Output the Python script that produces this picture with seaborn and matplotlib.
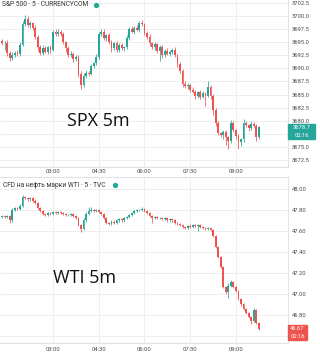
import numpy as np
import pandas as pd
import matplotlib
matplotlib.use("Agg")
import matplotlib.pyplot as plt
import matplotlib.transforms as mtransforms
from matplotlib.patches import Rectangle
import seaborn as sns

# candle times (5 min bars)
times = pd.date_range("2020-11-20 01:20", periods=102, freq="5min")
time_ticks = ["03:00", "04:30", "06:00", "07:30", "09:00"]

# S&P 500 closes, first open, wick sizes
spx_open0 = 3695.3
spx_close = [3694.8, 3694.9, 3693.0, 3692.0, 3692.5, 3693.0, 3692.8, 3694.5, 3698.5, 3699.5,
             3698.2, 3698.6, 3697.8, 3696.0, 3694.0, 3693.0, 3693.8, 3693.2, 3694.0, 3693.6,
             3697.0, 3696.5, 3697.0, 3696.6, 3695.0, 3693.8, 3692.5, 3692.8, 3691.8, 3692.2,
             3689.0, 3686.8, 3688.5, 3689.2, 3689.0, 3690.5, 3691.0, 3692.2, 3696.5, 3697.0,
             3695.8, 3696.3, 3695.0, 3693.8, 3694.8, 3693.6, 3694.5, 3693.8, 3694.0, 3695.8,
             3697.5, 3697.0, 3697.8, 3697.4, 3698.6, 3698.4, 3696.8, 3696.0, 3694.8, 3694.0,
             3694.6, 3693.4, 3694.0, 3692.6, 3693.4, 3692.8, 3693.2, 3693.6, 3692.5, 3690.8,
             3689.5, 3687.0, 3686.6, 3686.8, 3685.9, 3685.5, 3684.8, 3685.4, 3684.6, 3685.2,
             3684.8, 3686.4, 3684.8, 3682.0, 3679.5, 3677.6, 3677.2, 3677.8, 3676.8, 3676.2,
             3679.6, 3678.2, 3677.0, 3675.9, 3676.4, 3679.6, 3679.1, 3678.6, 3679.4, 3679.0,
             3676.8, 3678.7]
spx_uw = [0.4, 0.3, 0.5, 0.3, 0.6, 0.4, 0.5, 0.6, 0.5, 0.7,
          0.5, 0.4, 0.3, 0.4, 0.3, 0.5, 0.6, 0.4, 0.3, 0.5,
          0.4, 0.6, 0.5, 0.3, 0.4, 0.3, 0.5, 0.6, 0.4, 0.3,
          0.3, 0.4, 0.6, 0.5, 0.3, 0.4, 0.3, 0.5, 0.4, 0.6,
          0.5, 0.3, 0.4, 0.5, 0.3, 0.4, 0.3, 0.4, 0.3, 0.5,
          0.4, 0.6, 0.3, 0.5, 0.4, 0.7, 0.3, 0.4, 0.5, 0.3,
          0.4, 0.3, 0.5, 0.4, 0.3, 0.5, 0.4, 0.3, 0.5, 0.3,
          0.4, 0.3, 0.5, 0.4, 0.3, 0.5, 0.4, 0.3, 0.5, 0.4,
          0.3, 1.2, 0.4, 0.3, 0.5, 0.4, 0.3, 0.4, 0.5, 0.3,
          0.6, 0.4, 0.3, 0.5, 0.3, 0.7, 0.4, 0.3, 0.5, 0.4,
          0.3, 0.3]
spx_lw = [0.3, 1.2, 0.6, 0.5, 0.4, 0.3, 0.5, 0.4, 0.3, 0.4,
          0.3, 0.5, 0.4, 0.3, 0.6, 0.4, 0.5, 0.3, 0.4, 0.6,
          0.3, 0.4, 0.3, 0.5, 0.4, 0.6, 0.4, 0.3, 0.5, 0.4,
          0.6, 0.8, 0.4, 0.3, 0.5, 0.3, 0.4, 0.3, 0.5, 0.4,
          0.3, 0.5, 0.4, 0.6, 0.3, 0.5, 0.4, 0.3, 0.5, 0.3,
          0.4, 0.3, 0.5, 0.3, 0.4, 0.3, 0.5, 0.4, 0.6, 0.3,
          0.5, 0.4, 2.0, 0.6, 0.4, 0.3, 0.5, 0.4, 0.3, 0.6,
          0.4, 0.6, 0.3, 0.5, 0.4, 0.3, 0.6, 0.4, 0.5, 0.3,
          2.0, 0.3, 0.6, 1.0, 0.5, 0.4, 0.3, 0.8, 1.4, 1.6,
          0.5, 0.4, 0.6, 1.3, 0.8, 0.4, 0.3, 0.5, 0.4, 0.3,
          0.6, 0.4]
spx_ticks = [3672.5, 3675.0, 3680.0, 3682.5, 3685.0, 3687.5, 3690.0,
             3692.5, 3695.0, 3697.5, 3700.0, 3702.5]

# WTI closes, first open, wick sizes
wti_open0 = 47.73
wti_close = [47.74, 47.73, 47.74, 47.70, 47.80, 47.82, 47.81, 47.84, 47.92, 47.91,
             47.90, 47.91, 47.89, 47.87, 47.82, 47.79, 47.76, 47.75, 47.77, 47.76,
             47.78, 47.77, 47.78, 47.77, 47.76, 47.75, 47.75, 47.76, 47.74, 47.72,
             47.66, 47.62, 47.70, 47.76, 47.79, 47.80, 47.79, 47.80, 47.78, 47.76,
             47.72, 47.68, 47.67, 47.69, 47.68, 47.70, 47.71, 47.70, 47.72, 47.73,
             47.75, 47.77, 47.79, 47.80, 47.80, 47.81, 47.79, 47.77, 47.74, 47.72,
             47.73, 47.72, 47.72, 47.71, 47.72, 47.70, 47.71, 47.70, 47.68, 47.67,
             47.66, 47.64, 47.63, 47.65, 47.64, 47.66, 47.65, 47.66, 47.64, 47.63,
             47.62, 47.63, 47.61, 47.55, 47.45, 47.35, 47.26, 47.07, 47.02, 47.08,
             47.11, 47.07, 47.03, 46.95, 46.90, 46.86, 46.82, 46.78, 46.74, 46.85,
             46.72, 46.67]
wti_uw = [0.01, 0.01, 0.01, 0.01, 0.02, 0.01, 0.01, 0.02, 0.02, 0.01,
          0.01, 0.01, 0.01, 0.01, 0.01, 0.01, 0.01, 0.01, 0.01, 0.01,
          0.01, 0.01, 0.01, 0.01, 0.01, 0.01, 0.01, 0.01, 0.01, 0.01,
          0.01, 0.01, 0.02, 0.02, 0.04, 0.03, 0.01, 0.01, 0.01, 0.01,
          0.01, 0.01, 0.01, 0.01, 0.01, 0.01, 0.01, 0.01, 0.01, 0.01,
          0.01, 0.01, 0.01, 0.01, 0.01, 0.02, 0.01, 0.01, 0.01, 0.01,
          0.01, 0.01, 0.01, 0.01, 0.01, 0.01, 0.01, 0.01, 0.01, 0.01,
          0.01, 0.01, 0.01, 0.01, 0.02, 0.01, 0.01, 0.01, 0.01, 0.01,
          0.01, 0.01, 0.01, 0.01, 0.01, 0.01, 0.01, 0.01, 0.01, 0.02,
          0.02, 0.01, 0.01, 0.01, 0.01, 0.01, 0.01, 0.01, 0.01, 0.02,
          0.01, 0.01]
wti_lw = [0.01, 0.01, 0.01, 0.02, 0.01, 0.01, 0.01, 0.01, 0.01, 0.01,
          0.01, 0.01, 0.01, 0.01, 0.01, 0.01, 0.01, 0.01, 0.01, 0.01,
          0.01, 0.01, 0.01, 0.01, 0.01, 0.01, 0.01, 0.01, 0.01, 0.01,
          0.01, 0.03, 0.01, 0.01, 0.01, 0.01, 0.01, 0.01, 0.01, 0.01,
          0.01, 0.01, 0.01, 0.01, 0.01, 0.01, 0.01, 0.01, 0.01, 0.01,
          0.01, 0.01, 0.01, 0.01, 0.01, 0.01, 0.01, 0.01, 0.01, 0.04,
          0.01, 0.01, 0.01, 0.01, 0.01, 0.01, 0.01, 0.01, 0.01, 0.01,
          0.01, 0.01, 0.01, 0.01, 0.01, 0.01, 0.01, 0.05, 0.01, 0.01,
          0.01, 0.01, 0.01, 0.01, 0.01, 0.01, 0.01, 0.01, 0.02, 0.06,
          0.01, 0.01, 0.01, 0.01, 0.01, 0.01, 0.01, 0.01, 0.03, 0.01,
          0.01, 0.01]
wti_ticks = [46.8, 47.0, 47.2, 47.4, 47.6, 47.8, 48.0]

UP = "#26a69a"
DOWN = "#ef5350"
GRID = "#eeeeee"
SPINE = "#e0e3eb"
TXT = "#4a4a4a"


def make_df(open0, close, uw, lw):
    df = pd.DataFrame({"time": times, "close": close})
    df["open"] = df["close"].shift(1).fillna(open0)
    df["high"] = df[["open", "close"]].max(axis=1) + np.array(uw)
    df["low"] = df[["open", "close"]].min(axis=1) - np.array(lw)
    df["idx"] = np.arange(len(df))
    return df


spx = make_df(spx_open0, spx_close, spx_uw, spx_lw)
wti = make_df(wti_open0, wti_close, wti_uw, wti_lw)

sns.set_style("white")
plt.rcParams["font.family"] = ["Roboto", "DejaVu Sans"]

W, H = 320, 353
fig = plt.figure(figsize=(W / 100, H / 100), dpi=100)
ax1 = fig.add_axes([0, 1 - 167 / H, 288 / W, 167 / H])
ax2 = fig.add_axes([0, 1 - 343 / H, 288 / W, 166 / H])


def draw_candles(ax, df, min_h):
    colors = np.where(df["close"] >= df["open"], UP, DOWN)
    ax.vlines(df["idx"], df["low"], df["high"], colors=colors, lw=0.55, zorder=3)
    body = (df["close"] - df["open"]).abs().clip(lower=min_h)
    ax.bar(df["idx"], body, bottom=df[["open", "close"]].min(axis=1),
           width=0.72, color=colors, linewidth=0, zorder=4)


def style_axis(ax, ylim, yticks, grid_y, fmt, tick_pad):
    ax.set_xlim(-0.87, 112.5)
    ax.set_ylim(*ylim)
    ax.yaxis.tick_right()
    ax.set_yticks(yticks)
    ax.set_yticklabels([fmt.format(v) for v in yticks])
    for gy in grid_y:
        ax.axhline(gy, color=GRID, lw=0.7, zorder=0)
    tick_pos = [list(times.strftime("%H:%M")).index(t) for t in time_ticks]
    ax.set_xticks(tick_pos)
    ax.set_xticklabels(time_ticks)
    ax.tick_params(axis="y", length=0, pad=3, labelsize=4.2, labelcolor=TXT)
    ax.tick_params(axis="x", length=0, pad=tick_pad, labelsize=4.2, labelcolor=TXT)
    ax.grid(True, color=GRID, lw=0.7, zorder=0)
    ax.set_axisbelow(True)
    ax.spines["left"].set_visible(False)
    for s in ["right", "bottom", "top"]:
        ax.spines[s].set_color(SPINE)
        ax.spines[s].set_linewidth(0.8)


def price_box(ax, price, text, color, width_px, offset_px=0):
    y0, y1 = ax.get_ylim()
    h_px = ax.get_position().height * H
    per_px = (y1 - y0) / h_px
    yc = price - offset_px * per_px
    trans = mtransforms.blended_transform_factory(ax.transAxes, ax.transData)
    ax.add_patch(Rectangle((1.0, yc - 3.5 * per_px), width_px / 288, 7 * per_px,
                           transform=trans, color=color, clip_on=False, zorder=6))
    ax.text(1.0 + width_px / 2 / 288, yc, text, transform=trans, ha="center", va="center",
            color="white", fontsize=4.2, zorder=7, clip_on=False)


# S&P 500 panel
draw_candles(ax1, spx, 0.12)
style_axis(ax1, (3671.14, 3703.07), spx_ticks, [3677.5], "{:.1f}", 1.5)
ax1.spines["top"].set_visible(False)
ax1.text(2 / 288, 1 - 5 / 167, "S&P 500 · 5 · CURRENCYCOM", transform=ax1.transAxes,
         ha="left", va="center", fontsize=4.8, color="#333333")
ax1.plot([96 / 288], [1 - 5 / 167], "o", ms=2.8, color="#22ab94", transform=ax1.transAxes,
         clip_on=False)
ax1.text(98 / 288, (167 - 121) / 167, "SPX 5m", transform=ax1.transAxes, ha="center",
         va="center", fontsize=13, color="#111111", family="Open Sans")
price_box(ax1, spx_close[-1], "{:.1f}".format(spx_close[-1]), UP, 27)
price_box(ax1, spx_close[-1], "02:16", UP, 27, offset_px=8)

# WTI panel
draw_candles(ax2, wti, 0.003)
style_axis(ax2, (46.533, 48.114), wti_ticks, [46.6], "{:.2f}", 3)
ax2.text(3 / 288, 1 - 8 / 166, "CFD на нефть марки WTI · 5 · TVC", transform=ax2.transAxes,
         ha="left", va="center", fontsize=4.8, color="#333333")
ax2.plot([115 / 288], [1 - 8 / 166], "o", ms=2.8, color="#22ab94", transform=ax2.transAxes,
         clip_on=False)
ax2.text(85 / 288, (343 - 278) / 166, "WTI 5m", transform=ax2.transAxes, ha="center",
         va="center", fontsize=13, color="#111111", family="Open Sans")
price_box(ax2, wti_close[-1], "{:.2f}".format(wti_close[-1]), DOWN, 19)
price_box(ax2, wti_close[-1], "02:16", DOWN, 19, offset_px=8)

fig.savefig("out.png", dpi=100)
